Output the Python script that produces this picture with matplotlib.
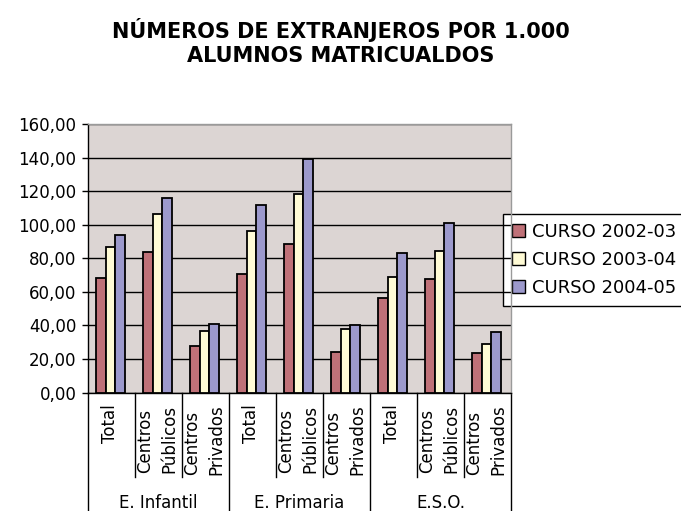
import matplotlib
matplotlib.use("Agg")
import matplotlib.pyplot as plt
from matplotlib.patches import Patch
import numpy as np

plt.rcParams['font.family'] = ['DejaVu Sans']

# ---- data ----
categories = ["Total", "Centros\nPúblicos", "Centros\nPrivados"] * 3
groups = ["E. Infantil", "E. Primaria", "E.S.O."]
series_names = ["CURSO 2002-03", "CURSO 2003-04", "CURSO 2004-05"]
curso_2002 = [68.0, 83.9, 27.9, 70.6, 88.3, 24.1, 56.3, 67.8, 23.4]
curso_2003 = [86.5, 106.2, 36.7, 96.2, 118.5, 37.6, 68.6, 84.1, 28.7]
curso_2004 = [93.7, 116.1, 41.0, 111.5, 139.3, 40.0, 82.9, 100.8, 35.9]
yticks = [0, 20, 40, 60, 80, 100, 120, 140, 160]
title = "NÚMEROS DE EXTRANJEROS POR 1.000\nALUMNOS MATRICUALDOS"

colors = ["#bf7178", "#fffbd5", "#9c99cc"]
W, H = 681, 511

fig = plt.figure(figsize=(W / 100, H / 100), dpi=100)
ax = fig.add_axes([88 / W, (H - 392.5) / H, (511 - 88) / W, (392.5 - 124) / H])
ax.set_facecolor("#dcd5d3")

x = np.arange(len(categories))
bw = 0.205
for k, (vals, col) in enumerate(zip([curso_2002, curso_2003, curso_2004], colors)):
    ax.bar(x + (k - 1) * bw - 0.02, vals, width=bw, color=col, edgecolor="black",
           linewidth=1.3, zorder=3, label=series_names[k])

ax.set_xlim(-0.5, len(categories) - 0.5)
ax.set_ylim(0, 160)
ax.set_yticks(yticks)
ax.set_yticklabels([f"{v:.2f}".replace(".", ",") for v in yticks], fontsize=12)
ax.tick_params(axis="y", length=4.3, width=1, pad=4, color="black")
ax.set_xticks([])
ax.set_axisbelow(True)
ax.yaxis.grid(True, color="black", linewidth=1.0, zorder=0.5)
for sp in ["top", "right"]:
    ax.spines[sp].set_color("#9a9a9a")
    ax.spines[sp].set_linewidth(1.0)
for sp in ["left", "bottom"]:
    ax.spines[sp].set_color("black")
    ax.spines[sp].set_linewidth(1.0)

# separators below axis
trans = ax.get_xaxis_transform()
for b in np.arange(-0.5, len(categories), 1.0):
    idx = int(b + 0.5)
    if idx % 3 == 0:
        ax.plot([b, b], [0, -0.5], color="black", lw=1.0, clip_on=False, transform=trans)
    else:
        ax.plot([b, b], [0, -0.315], color="black", lw=1.0, clip_on=False, transform=trans)

# category labels
for i, lab in enumerate(categories):
    ax.text(i - 0.03, -0.045, lab, rotation=90, va="top", ha="center", multialignment="left",
            fontsize=12, transform=trans, linespacing=1.4)
# group labels
for g, name in enumerate(groups):
    ax.text(3 * g + 1, -0.413, name, ha="center", va="center", fontsize=12, transform=trans)

# title
fig.text(341 / W, 1 - 42.5 / H, title, ha="center", va="center", fontsize=15,
         fontweight="bold", linespacing=1.25)

# legend
handles = [Patch(facecolor=c, edgecolor="black", linewidth=1.0) for c in colors]
leg = ax.legend(handles, series_names, loc="upper left",
                bbox_to_anchor=(503 / W, 1 - 214 / H), bbox_transform=fig.transFigure,
                fontsize=13, frameon=True, fancybox=False, framealpha=1,
                edgecolor="black", handlelength=0.7, handleheight=0.7,
                handletextpad=0.4, labelspacing=0.55, borderpad=0.5, borderaxespad=0)
leg.get_frame().set_linewidth(1.0)
leg.set_zorder(0.4)

fig.savefig("out.png", dpi=100)
